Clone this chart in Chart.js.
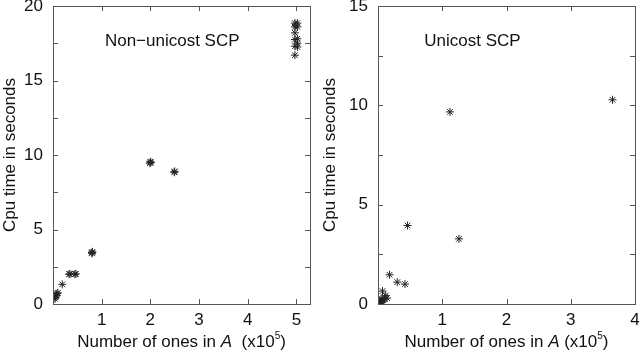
<!DOCTYPE html>
<html><head><meta charset="utf-8">
<script src="https://cdn.jsdelivr.net/npm/chart.js@4/dist/chart.umd.min.js"></script>
<style>
html,body{margin:0;padding:0;background:#fff;}
.box{position:absolute;top:0;width:320px;height:351px;}
</style></head><body>
<div class="box" style="left:0"><canvas id="c1"></canvas></div>
<div class="box" style="left:320px"><canvas id="c2"></canvas></div>
<script>
// ---- data (x in units of 1e5 ones, y in seconds) ----
const nonUnicostX = [0.04,0.05,0.06,0.07,0.08,0.10, 0.19, 0.33,0.35,0.45,0.47, 0.80,0.81,0.80, 1.99,2.00,2.01, 2.49,2.50,
  4.97,5.02,4.97,5.02,4.97,5.02,4.97,5.02,4.97,5.02,4.97];
const nonUnicostY = [0.35,0.45,0.55,0.60,0.70,0.75, 1.32, 2.00,2.02,2.00,2.02, 3.40,3.50,3.45, 9.45,9.55,9.50, 8.84,8.90,
  18.85,18.85,18.60,18.60,18.20,17.80,17.75,17.50,17.30,17.25,16.70];
const unicostX = [3.65,1.12,0.46,1.26,0.18,0.30,0.42,0.07,0.12,0.05,0.14,0.03,0.02,0.04,0.01,0.06,0.08,0.10];
const unicostY = [10.28,9.67,3.95,3.28,1.47,1.10,1.00,0.65,0.42,0.28,0.30,0.15,0.08,0.05,0.02,0.12,0.20,0.25];
const leftXTicks = [1,2,3,4,5];
const leftYTicks = [0,2.5,5,7.5,10,12.5,15,17.5,20];
const rightXTicks = [1,2,3,4];
const rightYTicks = [0,2.5,5,7.5,10,12.5,15];
const yTitle = "Cpu time in seconds";
const leftLabel = "Non\u2212unicost SCP";
const rightLabel = "Unicost SCP";

const FONT = "'Liberation Sans', Arial, Helvetica, sans-serif";
const FS = 17;
Chart.defaults.font.family = FONT;
Chart.defaults.color = '#111';

const framePlugin = {
  id: 'frame',
  afterDraw(chart, args, opts) {
    const ctx = chart.ctx, a = chart.chartArea;
    const xs = chart.scales.x, ys = chart.scales.y;
    ctx.save();
    ctx.strokeStyle = '#555'; ctx.lineWidth = 1;
    ctx.strokeRect(Math.round(a.left)+0.5, Math.round(a.top)+0.5, Math.round(a.right-a.left), Math.round(a.bottom-a.top));
    const L = 5;
    ctx.beginPath();
    xs.ticks.forEach(t => {
      const px = Math.round(xs.getPixelForValue(t.value)) + 0.5;
      ctx.moveTo(px, a.bottom); ctx.lineTo(px, a.bottom - L);
      ctx.moveTo(px, a.top); ctx.lineTo(px, a.top + L);
    });
    ys.ticks.forEach(t => {
      const py = Math.round(ys.getPixelForValue(t.value)) + 0.5;
      ctx.moveTo(a.left, py); ctx.lineTo(a.left + L, py);
      ctx.moveTo(a.right, py); ctx.lineTo(a.right - L, py);
    });
    ctx.stroke();
    // in-plot label
    ctx.fillStyle = '#111';
    ctx.font = FS + 'px ' + FONT;
    ctx.textAlign = 'center'; ctx.textBaseline = 'middle';
    ctx.fillText(opts.label, xs.getPixelForValue(opts.lx), ys.getPixelForValue(opts.ly));
    // x title with italic A and superscript 5
    const parts = [
      {t: 'Number of ones in ', f: FS + 'px ' + FONT, dy: 0},
      {t: 'A', f: 'italic ' + FS + 'px ' + FONT, dy: 0},
      {t: opts.gap + '(x10', f: FS + 'px ' + FONT, dy: 0},
      {t: '5', f: '10px ' + FONT, dy: -8},
      {t: ')', f: FS + 'px ' + FONT, dy: 0}
    ];
    let w = 0;
    parts.forEach(p => { ctx.font = p.f; p.w = ctx.measureText(p.t).width; w += p.w; });
    let x = (a.left + a.right) / 2 - w / 2 + opts.tdx;
    const base = opts.titleY;
    ctx.textAlign = 'left'; ctx.textBaseline = 'alphabetic';
    parts.forEach(p => { ctx.font = p.f; ctx.fillText(p.t, x, base + p.dy); x += p.w; });
    ctx.restore();
  }
};

function makeChart(id, xs, ys, xmax, ymax, xTicks, yTicks, yWidth, padRight, label, lx, ly, gap, tdx) {
  const pts = xs.map((v, i) => ({x: v, y: ys[i]}));
  return new Chart(document.getElementById(id), {
    type: 'scatter',
    data: { datasets: [{ data: pts, pointStyle: 'star', pointRadius: 4, borderWidth: 1,
      borderColor: '#222', backgroundColor: '#222' }] },
    options: {
      responsive: true, maintainAspectRatio: false, animation: false,
      layout: { padding: { top: 6, right: padRight, left: 0, bottom: 0 } },
      plugins: { legend: { display: false }, tooltip: { enabled: false },
        frame: { label, lx, ly, gap, tdx, titleY: 347 } },
      scales: {
        x: { type: 'linear', min: 0, max: xmax,
          grid: { display: false, drawTicks: false }, border: { display: false },
          afterBuildTicks: s => { s.ticks = xTicks.map(v => ({value: v})); },
          afterFit: s => { s.height = 47; s.paddingLeft = 0; s.paddingRight = 0; },
          ticks: { font: { size: FS }, color: '#111', padding: 6, maxRotation: 0, autoSkip: false,
            callback: v => String(v) } },
        y: { type: 'linear', min: 0, max: ymax,
          grid: { display: false, drawTicks: false }, border: { display: false },
          afterBuildTicks: s => { s.ticks = yTicks.map(v => ({value: v})); },
          afterFit: s => { s.width = yWidth; s.paddingTop = 0; s.paddingBottom = 0; },
          title: { display: true, text: yTitle, font: { size: FS }, color: '#111', padding: 0 },
          ticks: { font: { size: FS }, color: '#111', padding: 10, autoSkip: false,
            callback: v => (v % 5 === 0 ? String(v) : '') } }
      }
    },
    plugins: [framePlugin]
  });
}
makeChart('c1', nonUnicostX, nonUnicostY, 5.28, 20, leftXTicks, leftYTicks, 53, 10, leftLabel, 2.45, 17.6, '  ', 0);
makeChart('c2', unicostX, unicostY, 4, 15, rightXTicks, rightYTicks, 58, 5, rightLabel, 1.47, 13.2, ' ', 0);
</script>
</body></html>
